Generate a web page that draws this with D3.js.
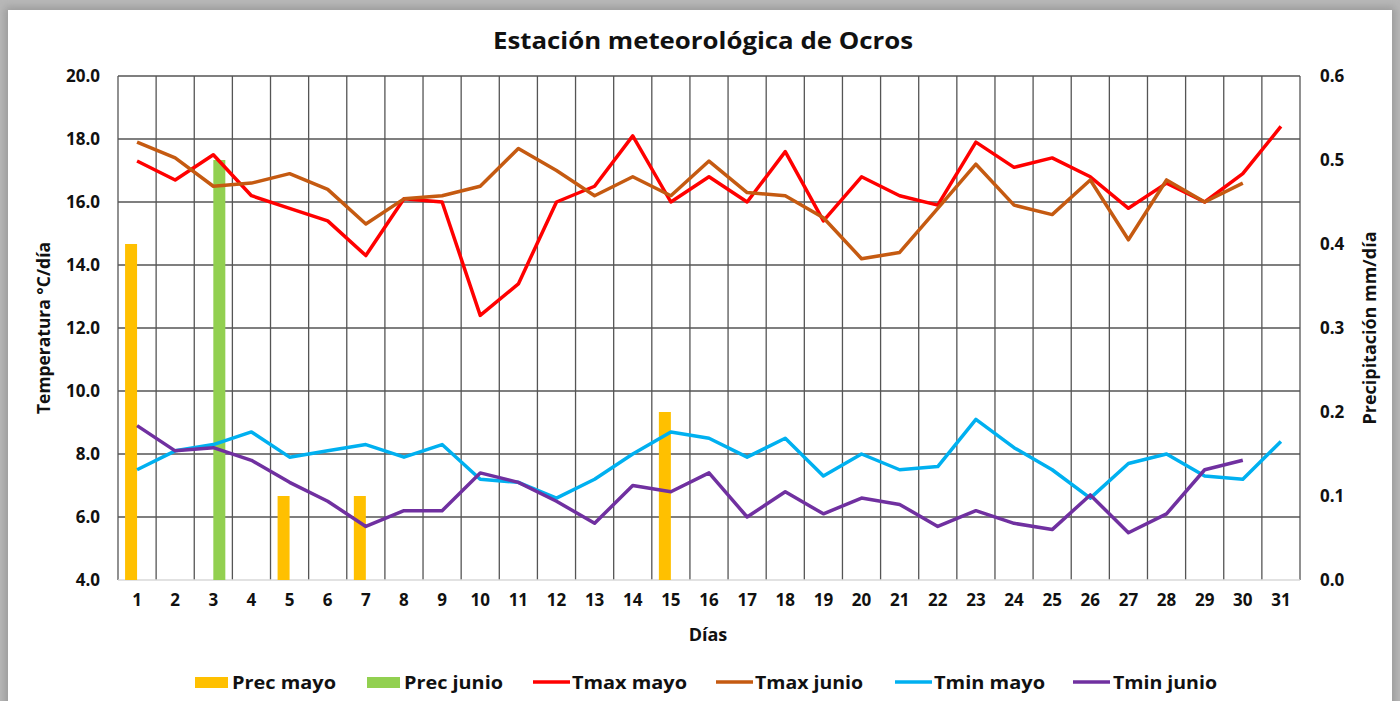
<!DOCTYPE html>
<html>
<head>
<meta charset="utf-8">
<script src="https://cdn.jsdelivr.net/npm/d3@7"></script>
<style>
  html, body { margin: 0; padding: 0; background: #b8b8b8; }
  #frame {
    position: absolute; left: 8px; top: 10px; width: 1384px; height: 700px;
    background: #fff; box-shadow: 0 0 8px 3px #9a9a9a;
  }
  svg { position: absolute; left: 0; top: 0; }
  text { font-family: "Open Sans", "DejaVu Sans", sans-serif; font-weight: bold; fill: #111; }
</style>
</head>
<body>
<div id="frame"></div>
<svg id="chart" width="1400" height="701"></svg>
<script>
const days = d3.range(1, 32).map(String);

const tmaxMayo = [17.3, 16.7, 17.5, 16.2, 15.8, 15.4, 14.3, 16.1, 16.0, 12.4, 13.4, 16.0, 16.5, 18.1, 16.0, 16.8,
  16.0, 17.6, 15.4, 16.8, 16.2, 15.9, 17.9, 17.1, 17.4, 16.8, 15.8, 16.6, 16.0, 16.9, 18.4];
const tmaxJunio = [17.9, 17.4, 16.5, 16.6, 16.9, 16.4, 15.3, 16.1, 16.2, 16.5, 17.7, 17.0, 16.2, 16.8, 16.2, 17.3,
  16.3, 16.2, 15.5, 14.2, 14.4, 15.8, 17.2, 15.9, 15.6, 16.7, 14.8, 16.7, 16.0, 16.6, null];
const tminMayo = [7.5, 8.1, 8.3, 8.7, 7.9, 8.1, 8.3, 7.9, 8.3, 7.2, 7.1, 6.6, 7.2, 8.0, 8.7, 8.5,
  7.9, 8.5, 7.3, 8.0, 7.5, 7.6, 9.1, 8.2, 7.5, 6.6, 7.7, 8.0, 7.3, 7.2, 8.4];
const tminJunio = [8.9, 8.1, 8.2, 7.8, 7.1, 6.5, 5.7, 6.2, 6.2, 7.4, 7.1, 6.5, 5.8, 7.0, 6.8, 7.4,
  6.0, 6.8, 6.1, 6.6, 6.4, 5.7, 6.2, 5.8, 5.6, 6.7, 5.5, 6.1, 7.5, 7.8, null];
const precMayo = { "1": 0.4, "5": 0.1, "7": 0.1, "15": 0.2 };
const precJunio = { "3": 0.5 };

const tempTicks = [4, 6, 8, 10, 12, 14, 16, 18, 20];
const precTicks = [0, 0.1, 0.2, 0.3, 0.4, 0.5, 0.6];

const svg = d3.select("#chart");
const L = 118, R = 1300, T = 76, B = 580;

const x = d3.scaleBand().domain(days).range([L, R]).padding(0);
const xs = d3.scaleBand().domain(["mayo", "junio"])
  .range([x.bandwidth() / 2 - 12, x.bandwidth() / 2 + 12]);
const yT = d3.scaleLinear().domain([4, 20]).range([B, T]);
const yP = d3.scaleLinear().domain([0, 0.6]).range([B, T]);

// grid
const grid = svg.append("g");
grid.selectAll("line.h")
  .data(tempTicks.filter(d => d > 4))
  .join("line")
  .attr("x1", L).attr("x2", R)
  .attr("y1", d => yT(d)).attr("y2", d => yT(d))
  .attr("stroke", "#555").attr("stroke-width", 1.3);
grid.selectAll("line.v")
  .data(days.map(d => x(d)).concat([R]))
  .join("line")
  .attr("x1", d => d).attr("x2", d => d)
  .attr("y1", T).attr("y2", B)
  .attr("stroke", "#555").attr("stroke-width", 1.3);
grid.append("line")
  .attr("x1", L).attr("x2", R).attr("y1", B).attr("y2", B)
  .attr("stroke", "#d9d9d9").attr("stroke-width", 1.4);

// bars
const bars = svg.append("g");
bars.selectAll("rect.m")
  .data(Object.entries(precMayo))
  .join("rect")
  .attr("x", d => x(d[0]) + xs("mayo"))
  .attr("width", xs.bandwidth())
  .attr("y", d => yP(d[1]))
  .attr("height", d => yP(0) - yP(d[1]))
  .attr("fill", "#ffc000");
bars.selectAll("rect.j")
  .data(Object.entries(precJunio))
  .join("rect")
  .attr("x", d => x(d[0]) + xs("junio"))
  .attr("width", xs.bandwidth())
  .attr("y", d => yP(d[1]))
  .attr("height", d => yP(0) - yP(d[1]))
  .attr("fill", "#92d050");

// lines
const line = d3.line()
  .defined(d => d[1] != null)
  .x(d => x(d[0]) + x.bandwidth() / 2)
  .y(d => yT(d[1]));

const series = [
  { name: "Tmax mayo", values: tmaxMayo, color: "#ff0000" },
  { name: "Tmax junio", values: tmaxJunio, color: "#c55a11" },
  { name: "Tmin mayo", values: tminMayo, color: "#00b0f0" },
  { name: "Tmin junio", values: tminJunio, color: "#7030a0" }
];

svg.append("g").selectAll("path")
  .data(series)
  .join("path")
  .attr("d", s => line(days.map((d, i) => [d, s.values[i]])))
  .attr("fill", "none")
  .attr("stroke", s => s.color)
  .attr("stroke-width", 3.5)
  .attr("stroke-linejoin", "round");

// axes
const axL = svg.append("g")
  .attr("transform", `translate(${L},0)`)
  .call(d3.axisLeft(yT).tickValues(tempTicks).tickFormat(d3.format(".1f")).tickSize(0).tickPadding(18));
const axR = svg.append("g")
  .attr("transform", `translate(${R},0)`)
  .call(d3.axisRight(yP).tickValues(precTicks).tickFormat(d3.format(".1f")).tickSize(0).tickPadding(20));
const axB = svg.append("g")
  .attr("transform", `translate(0,${B})`)
  .call(d3.axisBottom(x).tickSize(0).tickPadding(14));
[axL, axR, axB].forEach(a => {
  a.select(".domain").remove();
  a.selectAll("text").style("font-size", "17px").style("font-family", null).attr("fill", "#111");
});

// titles
svg.append("text")
  .attr("x", 703).attr("y", 49)
  .attr("text-anchor", "middle")
  .attr("textLength", 420).attr("lengthAdjust", "spacingAndGlyphs")
  .style("font-size", "24px")
  .text("Estación meteorológica de Ocros");

svg.append("text")
  .attr("x", 708).attr("y", 641)
  .attr("text-anchor", "middle")
  .style("font-size", "18px")
  .text("Días");

svg.append("text")
  .attr("transform", "translate(50,328) rotate(-90)")
  .attr("text-anchor", "middle")
  .attr("textLength", 172).attr("lengthAdjust", "spacingAndGlyphs")
  .style("font-size", "18px")
  .text("Temperatura °C/día");

svg.append("text")
  .attr("transform", "translate(1363,328) rotate(-90)")
  .attr("text-anchor", "middle")
  .attr("textLength", 193).attr("lengthAdjust", "spacingAndGlyphs")
  .attr("dy", "0.7em")
  .style("font-size", "18px")
  .text("Precipitación mm/día");

// legend
const legendItems = [
  { name: "Prec mayo", color: "#ffc000", type: "rect", x: 195, tx: 232, tw: 104 },
  { name: "Prec junio", color: "#92d050", type: "rect", x: 367, tx: 404, tw: 99 },
  { name: "Tmax mayo", color: "#ff0000", type: "line", x: 533, tx: 572, tw: 115 },
  { name: "Tmax junio", color: "#c55a11", type: "line", x: 716, tx: 755, tw: 108 },
  { name: "Tmin mayo", color: "#00b0f0", type: "line", x: 895, tx: 934, tw: 111 },
  { name: "Tmin junio", color: "#7030a0", type: "line", x: 1073, tx: 1113, tw: 104 }
];
const lg = svg.append("g");
legendItems.forEach(it => {
  if (it.type === "rect") {
    lg.append("rect").attr("x", it.x).attr("y", 677).attr("width", 33).attr("height", 11).attr("fill", it.color);
  } else {
    lg.append("line").attr("x1", it.x).attr("x2", it.x + 37).attr("y1", 682).attr("y2", 682)
      .attr("stroke", it.color).attr("stroke-width", 3.5);
  }
  lg.append("text")
    .attr("x", it.tx).attr("y", 689)
    .attr("textLength", it.tw).attr("lengthAdjust", "spacingAndGlyphs")
    .style("font-size", "18px")
    .text(it.name);
});
</script>
</body>
</html>
